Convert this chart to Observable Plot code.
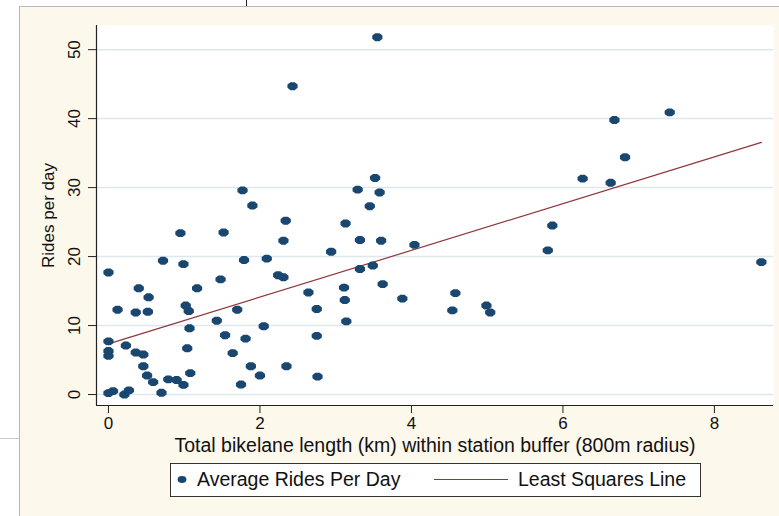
<!DOCTYPE html>
<html><head><meta charset="utf-8">
<script src="https://cdn.jsdelivr.net/npm/d3@7"></script>
<script src="https://cdn.jsdelivr.net/npm/@observablehq/plot@0.6"></script>
<style>
body{margin:0;background:#fff;}
#wrap{position:relative;width:779px;height:516px;overflow:hidden;background:#fff;font-family:"Liberation Sans",Arial,sans-serif;}
#panel{position:absolute;left:19px;top:6px;width:760px;height:510px;background:#fdf8ec;border-left:1px solid #b8b8b8;border-top:1px solid #b8b8b8;box-sizing:border-box;}
#vline{position:absolute;left:246px;top:0;width:1px;height:6px;background:#222;}
#hline{position:absolute;left:0;top:438px;width:19px;height:1px;background:#c8c8c8;}
#chart{position:absolute;left:0;top:0;}
#legend{position:absolute;left:170px;top:463px;width:531px;height:34px;box-sizing:border-box;border:1.5px solid #333;background:#fff;font-size:19.5px;color:#111;}
#legend .t{position:absolute;top:0;height:31px;line-height:31px;white-space:nowrap;}
#legend svg{position:absolute;top:0;}
</style>
</head><body>
<div id="wrap">
  <div id="panel"></div>
  <div id="vline"></div>
  <div id="hline"></div>
  <div id="chart"></div>
  <div id="legend"></div>
</div>
<script>
// Total bikelane length (km) within station buffer
const bikelaneKm = [
  0.00,0.00,0.00,0.00,0.00,0.06,0.21,0.27,0.12,0.23,0.36,0.36,0.40,0.46,0.46,0.51,0.52,0.53,0.59,0.70,
  0.72,0.79,0.90,0.95,0.99,0.99,1.02,1.04,1.06,1.07,1.08,1.17,1.43,1.48,1.52,1.54,1.64,1.70,1.75,1.77,
  1.79,1.81,1.88,1.90,2.00,2.05,2.09,2.24,2.31,2.31,2.34,2.35,2.43,2.64,2.75,2.75,2.76,2.94,3.11,3.12,
  3.13,3.14,3.29,3.32,3.32,3.45,3.49,3.52,3.55,3.58,3.60,3.62,3.88,4.04,4.54,4.58,4.99,5.04,5.80,5.86,
  6.26,6.63,6.68,6.82,7.41,8.62
];
// Average rides per day
const ridesPerDay = [
  17.7,7.7,6.3,5.6,0.2,0.5,0.0,0.6,12.3,7.1,11.9,6.1,15.4,5.8,4.1,2.75,12.0,14.1,1.8,0.25,
  19.4,2.2,2.1,23.4,18.9,1.4,12.9,6.7,12.1,9.6,3.1,15.4,10.7,16.7,23.5,8.6,6.0,12.3,1.45,29.6,
  19.5,8.1,4.1,27.4,2.75,9.9,19.7,17.3,17.0,22.3,25.2,4.1,44.7,14.8,12.4,8.5,2.6,20.7,15.5,13.7,
  24.8,10.6,29.7,22.4,18.2,27.3,18.7,31.4,51.8,29.3,22.3,16.0,13.9,21.7,12.2,14.7,12.9,11.9,20.9,24.5,
  31.3,30.7,39.8,34.4,40.9,19.2
];
const xTicks = [0, 2, 4, 6, 8];
const yTicks = [0, 10, 20, 30, 40, 50];
const xDomain = [-0.158, 8.78];
const yDomain = [-1.59, 53.5];
const xLabel = "Total bikelane length (km) within station buffer (800m radius)";
const yLabel = "Rides per day";
const legendLabels = ["Average Rides Per Day", "Least Squares Line"];

const navy = "#1a476f";
const maroon = "#90353b";
const font = "Liberation Sans, Arial, sans-serif";

const data = bikelaneKm.map((x, i) => ({x, y: ridesPerDay[i]}));

// slightly wide octagon marker (Stata style)
const octo = {draw(ctx, size) {
  const r = Math.sqrt(size / Math.PI), rx = r * 1.2, ry = r * 0.93;
  for (let i = 0; i < 8; i++) {
    const a = (i + 0.5) * Math.PI / 4;
    const px = rx * Math.cos(a), py = ry * Math.sin(a);
    if (i) ctx.lineTo(px, py); else ctx.moveTo(px, py);
  }
  ctx.closePath();
}};

const chart = Plot.plot({
  width: 779, height: 460,
  marginLeft: 96, marginRight: 6, marginTop: 25, marginBottom: 55,
  style: {background: "transparent", fontFamily: font, fontSize: "17px", color: "#111"},
  x: {domain: xDomain},
  y: {domain: yDomain},
  marks: [
    Plot.frame({fill: "white", stroke: null}),
    Plot.gridY(yTicks, {stroke: "#dde8ee", strokeOpacity: 1, strokeWidth: 1.5}),
    Plot.ruleX([xDomain[0]], {stroke: "#222", strokeWidth: 1.2}),
    Plot.ruleY([yDomain[0]], {stroke: "#222", strokeWidth: 1.2}),
    Plot.axisY(yTicks, {tickSize: 8, tickPadding: 9, tickRotate: -90, stroke: "#222",
      label: yLabel, labelAnchor: "center", labelArrow: "none", labelOffset: 55}),
    Plot.axisX(xTicks, {tickSize: 8, tickPadding: 3, stroke: "#222", label: null}),
    Plot.axisX(xTicks, {tickSize: 0, text: null, label: xLabel, labelAnchor: "center",
      labelArrow: "none", labelOffset: 46, fontSize: 19.5}),
    Plot.linearRegressionY(data, {x: "x", y: "y", stroke: maroon, strokeWidth: 1.2, ci: 0}),
    Plot.dot(data, {x: "x", y: "y", fill: navy, stroke: null, r: 4.6, symbol: octo})
  ]
});
document.getElementById("chart").appendChild(chart);

// legend
const lg = document.getElementById("legend");
lg.innerHTML =
  `<svg width="20" height="31" style="left:1px"><ellipse cx="10" cy="15.5" rx="4.4" ry="3.4" fill="${navy}"/></svg>` +
  `<div class="t" style="left:26px">${legendLabels[0]}</div>` +
  `<svg width="76" height="31" style="left:263px"><line x1="0" x2="74" y1="15.5" y2="15.5" stroke="${maroon}" stroke-width="1.2"/></svg>` +
  `<div class="t" style="left:347px">${legendLabels[1]}</div>`;
</script>
</body></html>
